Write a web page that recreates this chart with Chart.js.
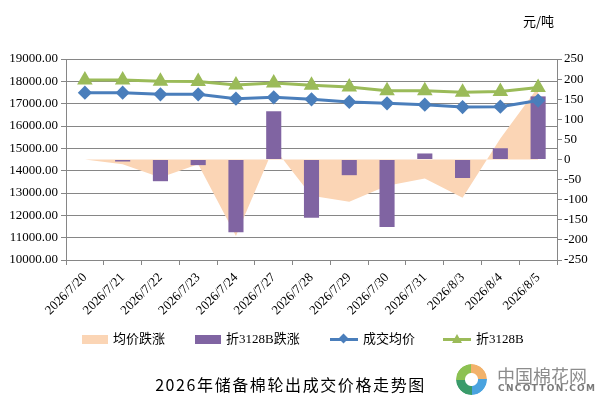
<!DOCTYPE html>
<html>
<head>
<meta charset="utf-8">
<script src="https://cdn.jsdelivr.net/npm/chart.js@4.4.1/dist/chart.umd.min.js"></script>
<style>
    body { margin: 0; background: #fff; }
    #wrap { position: relative; width: 599px; height: 400px; font-family: "Liberation Serif", "Noto Sans CJK SC", serif; color: #000; }
    #chart { position: absolute; left: 0; top: 0; }
    .abs { position: absolute; white-space: nowrap; }
    #unit { left: 523px; top: 11px; font-size: 13px; font-family: "Noto Sans CJK SC", sans-serif; }
    .leg { top: 330px; height: 18px; line-height: 18px; font-size: 13px; display: flex; align-items: center; }
    .box { display: inline-block; width: 26px; height: 9px; margin-right: 5px; }
    .ln { position: relative; display: inline-block; width: 28px; height: 9px; margin-right: 5px; }
    .ln .bar { position: absolute; left: 0; top: 3px; width: 28px; height: 3px; }
    .ln .dia { position: absolute; left: 10px; top: 0.5px; width: 7px; height: 7px; transform: rotate(45deg); background: #4A7EBB; }
    .ln .tri { position: absolute; left: 9px; top: -1px; width: 0; height: 0; border-left: 5px solid transparent; border-right: 5px solid transparent; border-bottom: 9px solid #9BBB59; }
    #title { left: 0; width: 581px; top: 372px; text-align: center; font-size: 16px; letter-spacing: 1.6px; font-family: "Noto Sans CJK SC", sans-serif; }
    #logo-icon { left: 456px; top: 364px; width: 31px; height: 31px; border-radius: 50%;
        background: conic-gradient(#f2b26b 0 25%, #4aa3df 25% 50%, #3a9b6a 50% 75%, #8cc152 75% 100%);
        -webkit-mask: radial-gradient(circle, transparent 6px, #000 7px); mask: radial-gradient(circle, transparent 6px, #000 7px); }
    #logo-cn { left: 497px; top: 362px; font-size: 18px; color: #8c8c8c; font-family: "Noto Sans CJK SC", sans-serif; letter-spacing: 0px; }
    #logo-en { left: 498px; top: 383px; font-size: 9px; font-weight: bold; color: #7a7a7a; letter-spacing: 1.3px; font-family: "DejaVu Sans", sans-serif; }
</style>
</head>
<body>
<div id="wrap">
    <canvas id="chart" width="599" height="400"></canvas>
    <div id="unit" class="abs">元/吨</div>

    <div class="abs leg" style="left:82px;"><span class="box" style="background:#FBD5B5"></span>均价跌涨</div>
    <div class="abs leg" style="left:195px;"><span class="box" style="background:#8064A2"></span>折3128B跌涨</div>
    <div class="abs leg" style="left:330px;"><span class="ln"><span class="bar" style="background:#4A7EBB"></span><span class="dia"></span></span>成交均价</div>
    <div class="abs leg" style="left:443px;"><span class="ln"><span class="bar" style="background:#9BBB59"></span><span class="tri"></span></span>折3128B</div>

    <div id="title" class="abs">2026年储备棉轮出成交价格走势图</div>
    <div id="logo-icon" class="abs"></div>
    <div id="logo-cn" class="abs">中国棉花网</div>
    <div id="logo-en" class="abs">CNCOTTON.COM</div>
</div>

<script>
const categories = ['2026/7/20', '2026/7/21', '2026/7/22', '2026/7/23', '2026/7/24', '2026/7/27', '2026/7/28',
    '2026/7/29', '2026/7/30', '2026/7/31', '2026/8/3', '2026/8/4', '2026/8/5'];

// 成交均价 / 折3128B (元/吨, left axis)
const avgPrice = [17490, 17490, 17420, 17420, 17225, 17285, 17195, 17075, 17015, 16955, 16850, 16865, 17140];
const price3128 = [18060, 18060, 18000, 17990, 17840, 17925, 17820, 17750, 17575, 17580, 17515, 17550, 17725];

// 均价跌涨 / 折3128B跌涨 (right axis)
const avgChange = [0, -12, -45, -12, -190, 30, -90, -105, -65, -47, -95, 52, 180];
const change3128 = [0, -5, -54, -14, -181, 120, -145, -39, -168, 15, -46, 28, 157];

const gridColor = '#868686';
const tickFont = {family: 'Liberation Serif', size: 13};

new Chart(document.getElementById('chart'), {
    type: 'bar',
    data: {
        labels: categories,
        datasets: [
            {
                type: 'line',
                label: '均价跌涨',
                data: avgChange,
                yAxisID: 'y1',
                fill: 'origin',
                backgroundColor: '#FBD5B5',
                borderWidth: 0,
                pointRadius: 0,
                order: 4,
            },
            {
                label: '折3128B跌涨',
                data: change3128,
                yAxisID: 'y1',
                backgroundColor: '#8064A2',
                barPercentage: 0.4,
                categoryPercentage: 1,
                order: 3,
            },
            {
                type: 'line',
                label: '成交均价',
                data: avgPrice,
                yAxisID: 'y',
                borderColor: '#4A7EBB',
                backgroundColor: '#4A7EBB',
                borderWidth: 3,
                pointStyle: 'rectRot',
                pointRadius: 5,
                order: 2,
            },
            {
                type: 'line',
                label: '折3128B',
                data: price3128,
                yAxisID: 'y',
                borderColor: '#9BBB59',
                backgroundColor: '#9BBB59',
                borderWidth: 3,
                pointStyle: 'triangle',
                pointRadius: 6,
                order: 1,
            }
        ]
    },
    options: {
        responsive: false,
        animation: false,
        layout: {
            padding: {top: 59, bottom: 80, left: 0, right: 0}
        },
        plugins: {
            legend: {display: false},
            tooltip: {enabled: false}
        },
        scales: {
            x: {
                offset: true,
                grid: {
                    offset: true,
                    drawOnChartArea: false,
                    drawTicks: true,
                    tickLength: 5,
                    color: gridColor
                },
                border: {color: gridColor},
                ticks: {
                    font: tickFont,
                    color: '#000',
                    minRotation: 45,
                    maxRotation: 45,
                    autoSkip: false,
                    padding: 5
                },
                afterFit(scale) {
                    scale.height = 60;
                }
            },
            y: {
                position: 'left',
                min: 10000,
                max: 19000,
                grid: {
                    color: gridColor,
                    tickLength: 5
                },
                border: {color: gridColor},
                ticks: {
                    stepSize: 1000,
                    font: tickFont,
                    color: '#000',
                    padding: 3,
                    callback: value => value.toFixed(2)
                },
                afterFit(scale) {
                    scale.width = 66;
                }
            },
            y1: {
                position: 'right',
                min: -250,
                max: 250,
                grid: {
                    drawOnChartArea: false,
                    color: gridColor,
                    tickLength: 5
                },
                border: {color: gridColor},
                ticks: {
                    stepSize: 50,
                    font: tickFont,
                    color: '#000',
                    padding: 2
                },
                afterFit(scale) {
                    scale.width = 42;
                }
            }
        }
    }
});
</script>
</body>
</html>
